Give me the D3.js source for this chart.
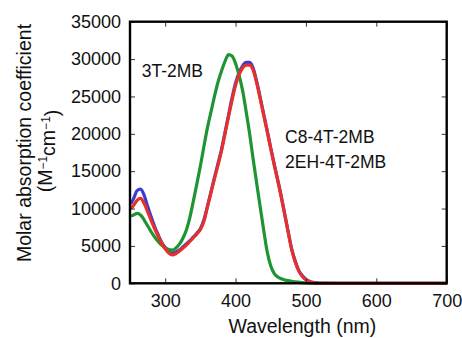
<!DOCTYPE html>
<html>
<head>
<meta charset="utf-8">
<script src="https://cdn.jsdelivr.net/npm/d3@7"></script>
<style>
  html, body { margin: 0; padding: 0; background: #fff; }
  svg { display: block; font-family: "Liberation Sans", Arial, sans-serif; }
</style>
</head>
<body>
<div id="chart"></div>
<script>
const width = 462
const height = 338
const margin = {top: 21.7, right: 15.3, bottom: 54.7, left: 130}

// wavelength grid (nm) shared by all three spectra
const wavelengths = [251, 255, 260, 265, 270, 275, 280, 285, 290, 295, 300, 305, 310, 315, 320,
  325, 330, 335, 340, 345, 350, 355, 360, 365, 370, 375, 380, 385, 390, 395, 400, 405, 410,
  415, 420, 425, 430, 435, 440, 445, 450, 455, 460, 465, 470, 475, 480, 485, 490, 495, 500,
  505, 510, 520, 550, 600, 650, 700]

// molar absorption coefficient (M^-1 cm^-1)
const c8Values = [10600, 11300, 12400, 12600, 11800, 10300, 8900, 7600, 6500, 5500, 4800, 4300,
  4050, 4150, 4450, 4850, 5250, 5700, 6200, 6700, 7300, 8500, 10300, 12200, 14150, 16000,
  17900, 20200, 22500, 24800, 26800, 28200, 29100, 29550, 29550, 28800, 27000, 24850, 22600,
  20400, 18100, 15900, 13800, 11600, 9200, 6800, 4500, 2900, 1700, 1000, 550, 280, 120, 20,
  0, 0, 0, 0]
const ehValues = [10000, 10400, 11100, 11350, 10700, 9600, 8400, 7300, 6300, 5400, 4600, 4050,
  3800, 3950, 4300, 4700, 5100, 5600, 6100, 6600, 7200, 8300, 10200, 12100, 14000, 15800,
  17700, 20000, 22300, 24500, 26500, 27900, 28800, 29200, 29200, 28500, 26800, 24700, 22500,
  20300, 18000, 15800, 13700, 11500, 9100, 6700, 4400, 2800, 1600, 900, 450, 200, 80, 0,
  0, 0, 0, 0]
const t3Values = [9000, 9150, 9350, 9150, 8500, 7700, 6900, 6200, 5600, 5100, 4750, 4500,
  4450, 4700, 5200, 6000, 7100, 8800, 11000, 13300, 15700, 18300, 20800, 22900, 25000, 26900,
  28400, 29700, 30600, 30400, 29400, 27800, 25800, 23000, 20000, 16600, 13400, 10200, 7100,
  4200, 2300, 1300, 850, 600, 450, 350, 280, 200, 150, 100, 60, 30, 10, 0,
  0, 0, 0, 0]

const xTicks = [300, 400, 500, 600, 700]
const yTicks = [0, 5000, 10000, 15000, 20000, 25000, 30000, 35000]

// labels placed in data units
const labelText = ["3T-2MB", "C8-4T-2MB", "2EH-4T-2MB"]
const labelWl = [266.6, 470.4, 470.4]
const labelVal = [27600, 18800, 15450]

const series = [
  {name: "C8-4T-2MB", values: c8Values, color: "#3b3bd0"},
  {name: "3T-2MB", values: t3Values, color: "#1f9433"},
  {name: "2EH-4T-2MB", values: ehValues, color: "#e8302b"},
]

const x = d3.scaleLinear().domain([250, 700]).range([margin.left, width - margin.right])
const y = d3.scaleLinear().domain([0, 35000]).range([height - margin.bottom, margin.top])

const svg = d3.select("#chart").append("svg")
    .attr("width", width)
    .attr("height", height)

const line = d3.line()
    .x(d => x(d[0]))
    .y(d => y(d[1]))
    .curve(d3.curveMonotoneX)

svg.append("g")
  .selectAll("path")
  .data(series)
  .join("path")
    .attr("fill", "none")
    .attr("stroke", d => d.color)
    .attr("stroke-width", 3.2)
    .attr("stroke-linejoin", "round")
    .attr("d", d => line(wavelengths.map((w, i) => [w, d.values[i]])))

// axes with inward ticks
const tickFont = "18px"
const bottom = svg.append("g")
    .attr("transform", `translate(0,${height - margin.bottom})`)
    .call(d3.axisBottom(x).tickValues(xTicks).tickSize(-5).tickPadding(11))
bottom.selectAll("text").style("font-size", tickFont).attr("fill", "#111")

const left = svg.append("g")
    .attr("transform", `translate(${margin.left},0)`)
    .call(d3.axisLeft(y).tickValues(yTicks).tickSize(-5).tickPadding(9).tickFormat(d3.format("d")))
left.selectAll("text").style("font-size", tickFont).attr("fill", "#111")

svg.append("g")
    .attr("transform", `translate(0,${margin.top})`)
    .call(d3.axisTop(x).tickValues(xTicks).tickSize(-5).tickFormat(""))
svg.append("g")
    .attr("transform", `translate(${width - margin.right},0)`)
    .call(d3.axisRight(y).tickValues(yTicks).tickSize(-5).tickFormat(""))

svg.selectAll(".domain").remove()
svg.selectAll(".tick line").attr("stroke", "#333").attr("stroke-width", 1)

// frame
svg.append("rect")
    .attr("x", x.range()[0])
    .attr("y", y.range()[1])
    .attr("width", x.range()[1] - x.range()[0])
    .attr("height", y.range()[0] - y.range()[1])
    .attr("fill", "none")
    .attr("stroke", "#000")
    .attr("stroke-width", 2.4)

// curve labels
svg.append("g")
    .style("font-size", "17.5px")
    .attr("fill", "#111")
  .selectAll("text")
  .data(labelText)
  .join("text")
    .attr("x", (d, i) => x(labelWl[i]))
    .attr("y", (d, i) => y(labelVal[i]))
    .text(d => d)

// axis titles
svg.append("text")
    .attr("x", (x.range()[0] + x.range()[1]) / 2 + 14)
    .attr("y", 333)
    .attr("text-anchor", "middle")
    .style("font-size", "19.5px")
    .attr("fill", "#111")
    .text("Wavelength (nm)")

svg.append("text")
    .attr("transform", "translate(31,143) rotate(-90)")
    .attr("text-anchor", "middle")
    .style("font-size", "19.5px")
    .attr("fill", "#111")
    .text("Molar absorption coefficient")

const unit = svg.append("text")
    .attr("transform", "translate(52,151) rotate(-90)")
    .attr("text-anchor", "middle")
    .style("font-size", "19.5px")
    .attr("fill", "#111")
unit.append("tspan").text("(M")
unit.append("tspan").attr("dy", "-0.45em").style("font-size", "12px").text("−1")
unit.append("tspan").attr("dy", "0.45em").text("cm")
unit.append("tspan").attr("dy", "-0.45em").style("font-size", "12px").text("−1")
unit.append("tspan").attr("dy", "0.45em").text(")")
</script>
</body>
</html>
